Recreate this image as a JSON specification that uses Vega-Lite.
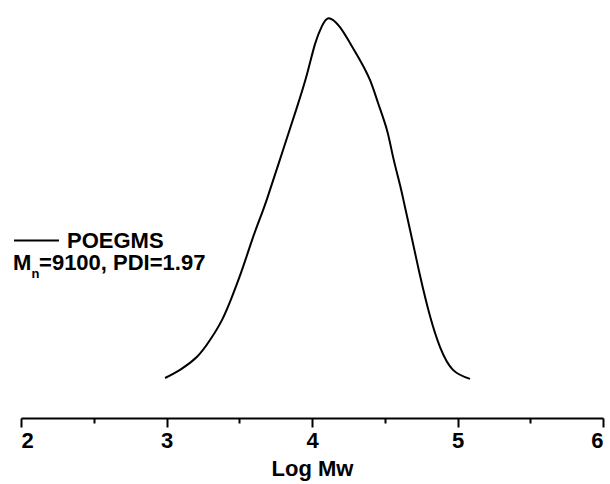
{
  "$schema": "https://vega.github.io/schema/vega-lite/v6.json",
  "autosize": "none",
  "width": 582,
  "height": 408,
  "padding": {"left": 21, "top": 10, "right": 7, "bottom": 66},
  "background": "white",
  "config": {
    "view": {"stroke": null},
    "font": "Liberation Sans"
  },
  "datasets": {
    "gpc": [
      {"logmw": 2.99, "intensity": 0.098, "series": "POEGMS"},
      {"logmw": 3.093, "intensity": 0.118, "series": "POEGMS"},
      {"logmw": 3.21, "intensity": 0.150, "series": "POEGMS"},
      {"logmw": 3.299, "intensity": 0.191, "series": "POEGMS"},
      {"logmw": 3.381, "intensity": 0.240, "series": "POEGMS"},
      {"logmw": 3.45, "intensity": 0.297, "series": "POEGMS"},
      {"logmw": 3.519, "intensity": 0.363, "series": "POEGMS"},
      {"logmw": 3.588, "intensity": 0.436, "series": "POEGMS"},
      {"logmw": 3.643, "intensity": 0.490, "series": "POEGMS"},
      {"logmw": 3.691, "intensity": 0.537, "series": "POEGMS"},
      {"logmw": 3.801, "intensity": 0.657, "series": "POEGMS"},
      {"logmw": 3.897, "intensity": 0.762, "series": "POEGMS"},
      {"logmw": 3.966, "intensity": 0.843, "series": "POEGMS"},
      {"logmw": 4.021, "intensity": 0.917, "series": "POEGMS"},
      {"logmw": 4.069, "intensity": 0.961, "series": "POEGMS"},
      {"logmw": 4.117, "intensity": 0.980, "series": "POEGMS"},
      {"logmw": 4.192, "intensity": 0.958, "series": "POEGMS"},
      {"logmw": 4.261, "intensity": 0.919, "series": "POEGMS"},
      {"logmw": 4.33, "intensity": 0.877, "series": "POEGMS"},
      {"logmw": 4.399, "intensity": 0.828, "series": "POEGMS"},
      {"logmw": 4.454, "intensity": 0.772, "series": "POEGMS"},
      {"logmw": 4.515, "intensity": 0.706, "series": "POEGMS"},
      {"logmw": 4.557, "intensity": 0.640, "series": "POEGMS"},
      {"logmw": 4.605, "intensity": 0.571, "series": "POEGMS"},
      {"logmw": 4.639, "intensity": 0.517, "series": "POEGMS"},
      {"logmw": 4.674, "intensity": 0.461, "series": "POEGMS"},
      {"logmw": 4.742, "intensity": 0.350, "series": "POEGMS"},
      {"logmw": 4.811, "intensity": 0.250, "series": "POEGMS"},
      {"logmw": 4.88, "intensity": 0.174, "series": "POEGMS"},
      {"logmw": 4.969, "intensity": 0.118, "series": "POEGMS"},
      {"logmw": 5.086, "intensity": 0.096, "series": "POEGMS"}
    ],
    "labels": [
      {"x": 1.945, "y": 0.363, "text": "M", "role": "main"},
      {"x": 2.072, "y": 0.343, "text": "n", "role": "sub"},
      {"x": 2.124, "y": 0.363, "text": "=9100, PDI=1.97", "role": "main"}
    ],
    "minor": [
      {"x": 2.5}, {"x": 3.5}, {"x": 4.5}, {"x": 5.5}
    ]
  },
  "layer": [
    {
      "data": {"name": "gpc"},
      "mark": {"type": "line", "interpolate": "natural", "strokeWidth": 2},
      "encoding": {
        "x": {
          "field": "logmw", "type": "quantitative",
          "scale": {"domain": [2, 6], "nice": false, "zero": false},
          "axis": {
            "orient": "bottom",
            "title": "Log Mw", "values": [2, 3, 4, 5, 6], "format": "d",
            "grid": false, "domainColor": "black", "domainWidth": 2,
            "tickColor": "black", "tickWidth": 2, "tickSize": 9,
            "labelFont": "Liberation Sans", "labelFontWeight": "bold", "labelFontSize": 22, "labelColor": "black", "labelPadding": 3,
            "titleFont": "Liberation Sans", "titleFontWeight": "bold", "titleFontSize": 22, "titleColor": "black", "titlePadding": 7
          }
        },
        "y": {
          "field": "intensity", "type": "quantitative",
          "scale": {"domain": [0, 1], "nice": false},
          "axis": null
        },
        "color": {
          "field": "series", "type": "nominal",
          "scale": {"range": ["black"]},
          "legend": {
            "title": null, "orient": "none", "legendX": -8, "legendY": 207,
            "symbolType": "stroke", "symbolSize": 2025, "symbolStrokeWidth": 2, "symbolStrokeColor": "black",
            "labelFont": "Liberation Sans", "labelFontWeight": "bold", "labelFontSize": 22, "labelColor": "black", "labelOffset": 7,
            "padding": 0
          }
        }
      }
    },
    {
      "data": {"name": "minor"},
      "mark": {"type": "point", "opacity": 0},
      "encoding": {
        "x": {
          "field": "x", "type": "quantitative",
          "axis": {
            "orient": "bottom",
            "title": null, "values": [2.5, 3.5, 4.5, 5.5], "labels": false, "domain": false, "grid": false,
            "tickColor": "black", "tickWidth": 2, "tickSize": 5
          }
        }
      }
    },
    {
      "data": {"name": "labels"},
      "transform": [{"filter": "datum.role === 'main'"}],
      "mark": {"type": "text", "font": "Liberation Sans", "fontWeight": "bold", "fontSize": 22, "align": "left", "baseline": "alphabetic", "color": "black"},
      "encoding": {
        "x": {"field": "x", "type": "quantitative", "axis": null},
        "y": {"field": "y", "type": "quantitative"},
        "text": {"field": "text"}
      }
    },
    {
      "data": {"name": "labels"},
      "transform": [{"filter": "datum.role === 'sub'"}],
      "mark": {"type": "text", "font": "Liberation Sans", "fontWeight": "bold", "fontSize": 13, "align": "left", "baseline": "alphabetic", "color": "black"},
      "encoding": {
        "x": {"field": "x", "type": "quantitative", "axis": null},
        "y": {"field": "y", "type": "quantitative"},
        "text": {"field": "text"}
      }
    }
  ],
  "resolve": {"axis": {"x": "independent"}}
}
